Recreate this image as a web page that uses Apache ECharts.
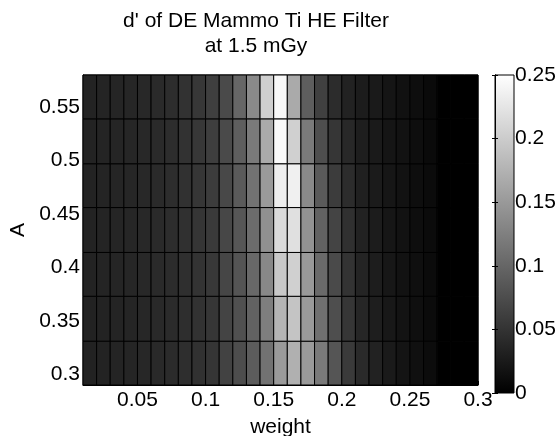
<!DOCTYPE html>
<html>
<head>
<meta charset="utf-8">
<script src="https://cdn.jsdelivr.net/npm/echarts@6/dist/echarts.min.js"></script>
<style>
  html, body { margin: 0; padding: 0; background: #fff; }
  #chart { width: 560px; height: 436px; }
</style>
</head>
<body>
<div id="chart"></div>
<script>
// cell edges (weight on x, A on y)
const xEdges = [0.01, 0.02, 0.03, 0.04, 0.05, 0.06, 0.07, 0.08, 0.09, 0.10,
  0.11, 0.12, 0.13, 0.14, 0.15, 0.16, 0.17, 0.18, 0.19, 0.20,
  0.21, 0.22, 0.23, 0.24, 0.25, 0.26, 0.27, 0.28, 0.29, 0.30]
const yEdges = [0.29, 0.331, 0.373, 0.414, 0.456, 0.497, 0.539, 0.58]

// d' per row, bottom row first, one value per weight column
const row1 = [0.033, 0.034, 0.035, 0.036, 0.038, 0.040, 0.042, 0.045, 0.048, 0.052,
  0.065, 0.075, 0.090, 0.112, 0.151, 0.173, 0.151, 0.120, 0.083, 0.057,
  0.041, 0.033, 0.025, 0.020, 0.016, 0.012, 0, 0, 0]
const row2 = [0.033, 0.034, 0.035, 0.036, 0.038, 0.040, 0.042, 0.045, 0.049, 0.053,
  0.067, 0.078, 0.096, 0.124, 0.176, 0.192, 0.151, 0.110, 0.076, 0.053,
  0.037, 0.029, 0.024, 0.019, 0.015, 0.011, 0, 0, 0]
const row3 = [0.034, 0.035, 0.036, 0.037, 0.039, 0.041, 0.043, 0.046, 0.050, 0.055,
  0.069, 0.082, 0.102, 0.133, 0.196, 0.204, 0.150, 0.104, 0.073, 0.050,
  0.035, 0.028, 0.023, 0.018, 0.015, 0.011, 0, 0, 0]
const row4 = [0.034, 0.035, 0.036, 0.037, 0.039, 0.041, 0.044, 0.047, 0.052, 0.057,
  0.070, 0.084, 0.106, 0.141, 0.214, 0.220, 0.144, 0.096, 0.067, 0.047,
  0.033, 0.027, 0.022, 0.018, 0.014, 0.011, 0, 0, 0]
const row5 = [0.034, 0.035, 0.036, 0.037, 0.039, 0.041, 0.044, 0.048, 0.053, 0.059,
  0.071, 0.088, 0.112, 0.151, 0.233, 0.235, 0.135, 0.088, 0.059, 0.043,
  0.031, 0.026, 0.022, 0.018, 0.014, 0.011, 0, 0, 0]
const row6 = [0.034, 0.035, 0.036, 0.037, 0.039, 0.041, 0.044, 0.049, 0.054, 0.061,
  0.073, 0.092, 0.120, 0.167, 0.245, 0.204, 0.120, 0.076, 0.053, 0.039,
  0.029, 0.025, 0.021, 0.018, 0.014, 0.010, 0, 0, 0]
const row7 = [0.034, 0.035, 0.036, 0.037, 0.039, 0.041, 0.044, 0.049, 0.054, 0.062,
  0.073, 0.100, 0.135, 0.203, 0.243, 0.167, 0.092, 0.063, 0.043, 0.033,
  0.027, 0.025, 0.021, 0.017, 0.014, 0.010, 0, 0, 0]
const rows = [row1, row2, row3, row4, row5, row6, row7]

const colorbarTicks = [0, 0.05, 0.1, 0.15, 0.2, 0.25]

const font = '"Liberation Sans", Arial, sans-serif'

const cells = []
rows.forEach((row, j) => {
  row.forEach((v, i) => {
    cells.push([xEdges[i], yEdges[j], xEdges[i + 1], yEdges[j + 1], v])
  })
})

const renderCell = (params, api) => {
  const p0 = api.coord([api.value(0), api.value(1)])
  const p1 = api.coord([api.value(2), api.value(3)])
  return {
    type: 'rect',
    shape: { x: p0[0], y: p1[1], width: p1[0] - p0[0], height: p0[1] - p1[1] },
    style: { fill: api.visual('color'), stroke: '#000', lineWidth: 1 }
  }
}

const label = { color: '#000', fontSize: 21, fontFamily: font }

const chart = echarts.init(document.getElementById('chart'))
chart.setOption({
  animation: false,
  backgroundColor: '#fff',
  title: {
    text: "d' of DE Mammo Ti HE Filter\nat 1.5 mGy",
    left: 251,
    top: 4,
    textAlign: 'center',
    textStyle: { color: '#000', fontSize: 21, fontWeight: 'normal', fontFamily: font, lineHeight: 25 }
  },
  grid: [
    {
      left: 83, right: 82, top: 75, bottom: 51, outerBoundsMode: 'none',
      show: true, borderColor: '#000', borderWidth: 1, backgroundColor: 'transparent'
    },
    {
      left: 495, width: 19, top: 75, bottom: 43, outerBoundsMode: 'none',
      show: true, borderColor: '#000', borderWidth: 1,
      backgroundColor: new echarts.graphic.LinearGradient(0, 0, 0, 1, [
        { offset: 0, color: '#fff' },
        { offset: 1, color: '#000' }
      ])
    }
  ],
  visualMap: {
    show: false,
    type: 'continuous',
    min: 0,
    max: 0.25,
    dimension: 4,
    seriesIndex: 0,
    inRange: { color: ['#000000', '#ffffff'] }
  },
  xAxis: [
    {
      gridIndex: 0,
      type: 'value',
      min: 0.01,
      max: 0.3,
      name: 'weight',
      nameLocation: 'middle',
      nameGap: 32,
      nameTextStyle: { color: '#000', fontSize: 21, fontFamily: font },
      axisLine: { show: true, lineStyle: { color: '#000' } },
      axisTick: { show: true, inside: true, length: 4, lineStyle: { color: '#000' } },
      axisLabel: { ...label, margin: 5, showMinLabel: false },
      splitLine: { show: false }
    },
    { gridIndex: 1, type: 'value', min: 0, max: 1, show: false }
  ],
  yAxis: [
    {
      gridIndex: 0,
      type: 'value',
      min: 0.29,
      max: 0.58,
      name: 'A',
      nameLocation: 'middle',
      nameRotate: 90,
      nameGap: 52,
      nameTextStyle: { color: '#000', fontSize: 21, fontFamily: font },
      axisLine: { show: true, lineStyle: { color: '#000' } },
      axisTick: { show: true, inside: true, length: 4, lineStyle: { color: '#000' } },
      axisLabel: { ...label, margin: 3, showMinLabel: false, showMaxLabel: false },
      splitLine: { show: false }
    },
    {
      gridIndex: 1,
      type: 'value',
      position: 'right',
      min: colorbarTicks[0],
      max: colorbarTicks[colorbarTicks.length - 1],
      interval: 0.05,
      axisLine: { show: true, lineStyle: { color: '#000' } },
      axisTick: { show: true, inside: true, length: 3, lineStyle: { color: '#000' } },
      axisLabel: { ...label, margin: 1 },
      splitLine: { show: false }
    },
    {
      gridIndex: 1,
      type: 'value',
      position: 'left',
      min: colorbarTicks[0],
      max: colorbarTicks[colorbarTicks.length - 1],
      interval: 0.05,
      axisLine: { show: true, lineStyle: { color: '#000' } },
      axisTick: { show: true, inside: true, length: 3, lineStyle: { color: '#000' } },
      axisLabel: { show: false },
      splitLine: { show: false }
    }
  ],
  series: [
    {
      type: 'custom',
      xAxisIndex: 0,
      yAxisIndex: 0,
      renderItem: renderCell,
      encode: { x: [0, 2], y: [1, 3] },
      data: cells
    }
  ]
})
</script>
</body>
</html>
